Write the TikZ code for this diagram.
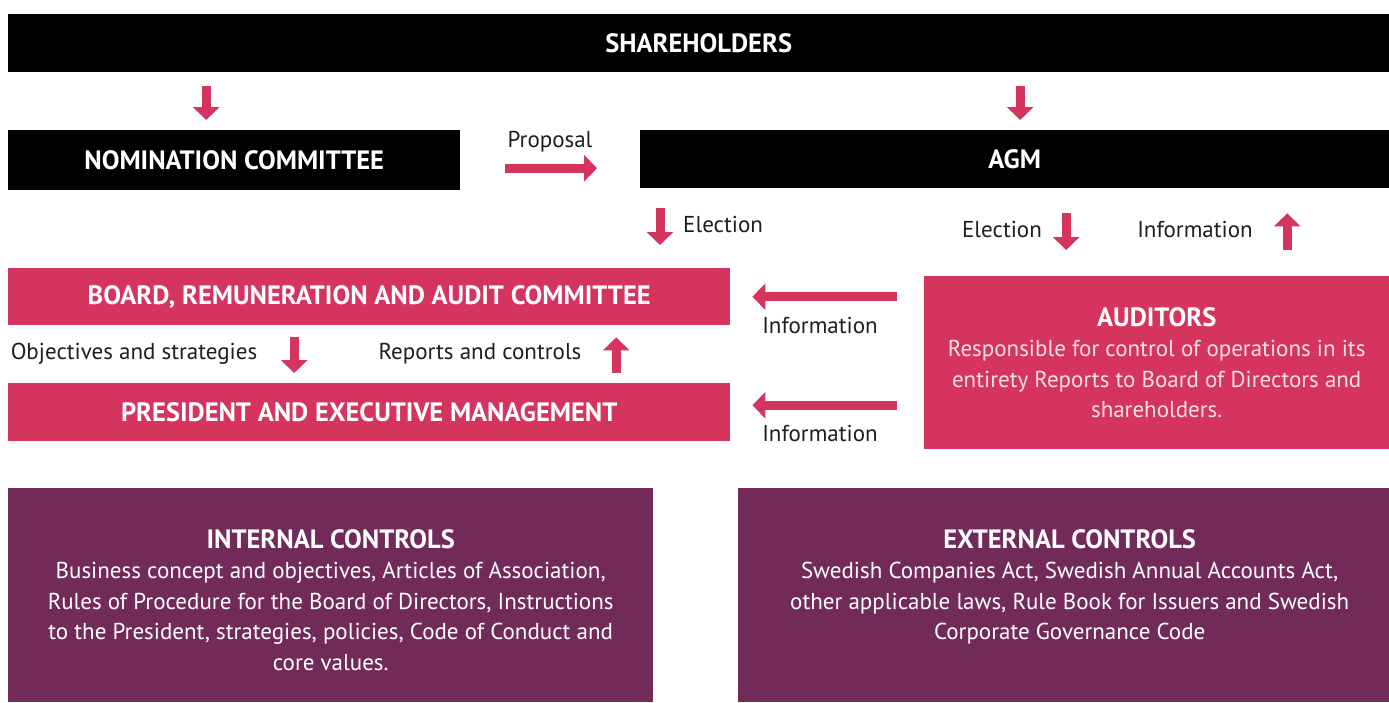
\documentclass[tikz,border=0pt]{standalone}
\usepackage{fontspec}
\setmainfont{PT Sans}
\usetikzlibrary{arrows.meta,positioning}

\definecolor{pinkbar}{HTML}{D5345F}
\definecolor{plumbar}{HTML}{722B59}
\definecolor{labelgray}{HTML}{1E1E1E}
\definecolor{pinktext}{HTML}{F8E0E7}

\tikzset{
  bar/.style={rectangle, inner sep=0pt, anchor=north west, text=white,
    font=\bfseries\fontsize{26.5}{30}\selectfont},
  blackbar/.style={bar, fill=black},
  pinkbox/.style={bar, fill=pinkbar},
  plumbox/.style={bar, fill=plumbar},
  fat/.style={draw=pinkbar, line width=9pt, -{Triangle[width=26pt,length=13pt]}},
  lbl/.style={text=labelgray, inner sep=0pt, font=\fontsize{23}{26}\selectfont},
  boxtext/.style={align=center, anchor=north, inner sep=0pt, font=\fontsize{23}{30.5}\selectfont}
}

\begin{document}
\begin{tikzpicture}[x=1pt,y=-1pt]
\useasboundingbox (0,0) rectangle (1389,702);

% bars and boxes
\node[blackbar, minimum width=1381, minimum height=58] (sh) at (8,14) {SHAREHOLDERS};
\node[blackbar, minimum width=452, minimum height=60] (nom) at (8,130) {NOMINATION COMMITTEE};
\node[blackbar, minimum width=749, minimum height=58] (agm) at (640,130) {AGM};
\node[pinkbox, minimum width=722, minimum height=57] (board) at (8,268) {BOARD, REMUNERATION AND AUDIT COMMITTEE};
\node[pinkbox, minimum width=722, minimum height=58] (pres) at (8,383) {PRESIDENT AND EXECUTIVE MANAGEMENT};
\node[pinkbox, minimum width=465, minimum height=173] (aud) at (924,276) {};
\node[plumbox, minimum width=645, minimum height=214] (intc) at (8,488) {};
\node[plumbox, minimum width=651, minimum height=214] (extc) at (738,488) {};

% texts in boxes
\node[boxtext, text=white] (audtext) at ([yshift=-31pt]aud.north)
  {{\bfseries\fontsize{26.5}{30}\selectfont AUDITORS}\\[0pt]
   \color{pinktext}Responsible for control of operations in its\\
   \color{pinktext}entirety Reports to Board of Directors and\\
   \color{pinktext}shareholders.};
\node[boxtext, text=white] (intext) at ([yshift=-41pt]intc.north)
  {{\bfseries\fontsize{26.5}{30}\selectfont INTERNAL CONTROLS}\\[0pt]
   Business concept and objectives, Articles of Association,\\
   Rules of Procedure for the Board of Directors, Instructions\\
   to the President, strategies, policies, Code of Conduct and\\
   core values.};
\node[boxtext, text=white] (extext) at ([xshift=6pt,yshift=-41pt]extc.north)
  {{\bfseries\fontsize{26.5}{30}\selectfont EXTERNAL CONTROLS}\\[0pt]
   Swedish Companies Act, Swedish Annual Accounts Act,\\
   other applicable laws, Rule Book for Issuers and Swedish\\
   Corporate Governance Code};

% arrows
\draw[fat, shorten <=14pt, shorten >=10pt] ([xshift=-28pt]nom.north |- sh.south) -- ([xshift=-28pt]nom.north);
\draw[fat, shorten <=14pt, shorten >=10pt] ([xshift=5.5pt]agm.north |- sh.south) -- ([xshift=5.5pt]agm.north);
\draw[fat, shorten <=45pt, shorten >=43pt] ([yshift=-8pt]nom.east) -- ([yshift=-8pt]nom.east -| agm.west);
\draw[fat, shorten <=20pt, shorten >=23pt] ([xshift=20pt]agm.south west) -- ([xshift=20pt]agm.south west |- board.north);
\draw[fat, shorten <=25pt, shorten >=26pt] ([xshift=-90.5pt]aud.north |- agm.south) -- ([xshift=-90.5pt]aud.north);
\draw[fat, shorten <=26pt, shorten >=25pt] ([xshift=130.5pt]aud.north) -- ([xshift=130.5pt]aud.north |- agm.south);
\draw[fat, shorten <=12pt, shorten >=10pt] ([xshift=-75pt]board.south) -- ([xshift=-75pt]board.south |- pres.north);
\draw[fat, shorten <=10pt, shorten >=12pt] ([xshift=247pt]pres.north) -- ([xshift=247pt]pres.north |- board.south);
\draw[fat, shorten <=27pt, shorten >=22pt] (board.east -| aud.west) -- (board.east);
\draw[fat, shorten <=27pt, shorten >=22pt] ([yshift=7pt]pres.east -| aud.west) -- ([yshift=7pt]pres.east);

% labels
\node[lbl] (proposal) at (550,142) {Proposal};
\node[lbl, anchor=west] (elect1) at (683,224) {Election};
\node[lbl] (elect2) at (1002,229) {Election};
\node[lbl] (info1) at (1195,229) {Information};
\node[lbl] (objectives) at (134,354) {Objectives and strategies};
\node[lbl] (reports) at (480,354) {Reports and controls};
\node[lbl] (info2) at (820,325) {Information};
\node[lbl] (info3) at (820,433) {Information};
\end{tikzpicture}
\end{document}
